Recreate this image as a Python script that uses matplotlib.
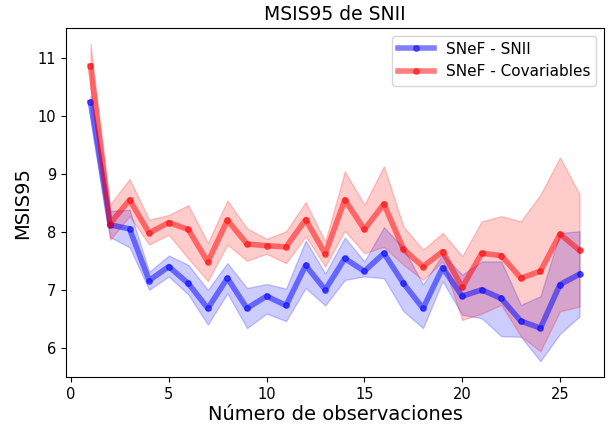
import matplotlib
matplotlib.use("Agg")
import matplotlib.pyplot as plt
import numpy as np

n_obs = list(range(1, 27))

snii_mean = [10.24, 8.13, 8.06, 7.17, 7.41, 7.12, 6.69, 7.21, 6.69, 6.90, 6.74, 7.43, 7.01,
             7.55, 7.33, 7.64, 7.12, 6.69, 7.39, 6.90, 7.01, 6.86, 6.47, 6.35, 7.10, 7.28]
snii_upper = [10.35, 8.37, 8.39, 7.32, 7.60, 7.44, 7.01, 7.47, 7.04, 7.11, 7.03, 7.86, 7.29,
              7.91, 7.50, 8.09, 7.73, 7.10, 7.62, 7.27, 7.50, 7.50, 6.75, 6.90, 7.99, 8.02]
snii_lower = [10.05, 7.92, 7.74, 7.01, 7.24, 6.93, 6.41, 6.95, 6.35, 6.60, 6.47, 7.04, 6.74,
              7.18, 7.24, 7.21, 6.64, 6.35, 7.16, 6.58, 6.52, 6.21, 6.20, 5.78, 6.25, 6.55]

cov_mean = [10.87, 8.15, 8.56, 7.99, 8.17, 8.05, 7.49, 8.21, 7.80, 7.77, 7.75, 8.22, 7.63,
            8.56, 8.05, 8.49, 7.71, 7.41, 7.67, 7.05, 7.64, 7.60, 7.21, 7.33, 7.97, 7.69]
cov_upper = [11.25, 8.48, 8.92, 8.22, 8.30, 8.47, 7.82, 8.55, 8.07, 7.89, 8.02, 8.52, 7.84,
             9.05, 8.48, 9.14, 8.10, 7.70, 7.99, 7.59, 8.19, 8.28, 8.19, 8.65, 9.29, 8.66]
cov_lower = [10.50, 7.87, 8.28, 7.79, 7.96, 7.55, 7.16, 7.79, 7.51, 7.63, 7.47, 7.93, 7.41,
             8.03, 7.64, 7.75, 7.44, 7.18, 7.50, 6.49, 6.60, 6.75, 6.21, 5.95, 6.64, 6.72]

fig = plt.figure(figsize=(6.08, 4.24), dpi=100)
ax = fig.add_axes([66/608, 1-377/424, (604-66)/608, (377-28)/424])

ax.plot(n_obs, snii_mean, color='blue', alpha=0.5, lw=4, marker='o', ms=4, label='SNeF - SNII')
ax.fill_between(n_obs, snii_lower, snii_upper, color='blue', alpha=0.2, lw=1)
ax.plot(n_obs, cov_mean, color='red', alpha=0.5, lw=4, marker='o', ms=4, label='SNeF - Covariables')
ax.fill_between(n_obs, cov_lower, cov_upper, color='red', alpha=0.2, lw=1)

ax.set_title('MSIS95 de SNII', fontsize=13.5)
ax.set_xlabel('Número de observaciones', fontsize=14, labelpad=2)
ax.set_ylabel('MSIS95', fontsize=14)
ax.tick_params(labelsize=10.5)
ax.legend(loc='upper right', fontsize=11, handlelength=2.3)

fig.savefig('out.png', dpi=100)
